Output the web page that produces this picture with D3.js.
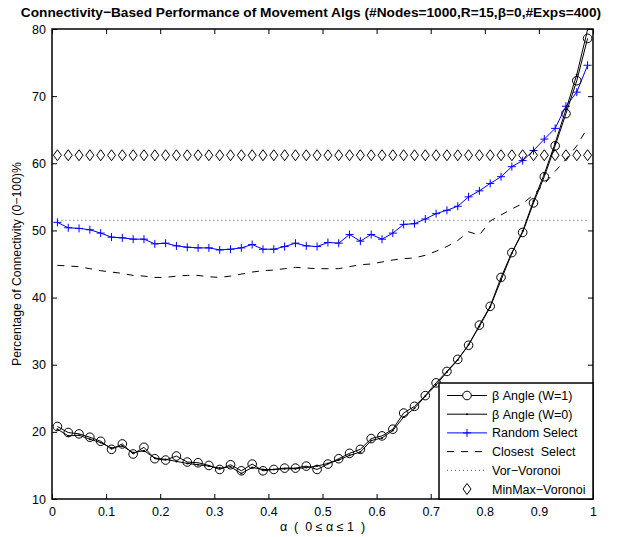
<!DOCTYPE html>
<html>
<head>
<meta charset="utf-8">
<script src="https://cdn.jsdelivr.net/npm/d3@7"></script>
<style>
  body { margin: 0; background: #fff; }
  text { font-family: "Liberation Sans", Arial, Helvetica, sans-serif; }
</style>
</head>
<body>
<svg width="623" height="537"></svg>
<script>

// alpha values, 0.01 .. 0.99 step 0.02
var alphas = [0.01,0.03,0.05,0.07,0.09,0.11,0.13,0.15,0.17,0.19,
              0.21,0.23,0.25,0.27,0.29,0.31,0.33,0.35,0.37,0.39,
              0.41,0.43,0.45,0.47,0.49,0.51,0.53,0.55,0.57,0.59,
              0.61,0.63,0.65,0.67,0.69,0.71,0.73,0.75,0.77,0.79,
              0.81,0.83,0.85,0.87,0.89,0.91,0.93,0.95,0.97,0.99];

var betaW1 = [20.8,19.9,19.7,19.2,18.6,17.4,18.2,16.7,17.7,16.0,
              15.8,16.4,15.5,15.4,15.0,14.4,15.1,14.2,15.2,14.2,
              14.4,14.6,14.6,14.9,14.4,15.2,16.0,16.8,17.4,19.0,
              19.4,20.4,22.8,23.8,25.4,27.3,29.0,30.8,32.9,35.9,
              38.7,43.0,46.7,49.7,54.1,58.0,62.6,67.4,72.3,78.6];

var betaW0 = [20.4,19.4,19.5,18.9,18.4,17.6,17.9,16.9,17.2,16.1,
              15.9,15.6,15.3,15.1,14.9,14.6,14.8,13.8,14.7,14.4,
              14.4,14.5,14.5,14.7,14.9,15.3,15.8,16.5,17.0,18.7,
              19.1,20.2,22.2,23.5,25.3,27.0,28.9,30.7,33.0,35.7,
              38.6,42.6,46.6,49.9,54.4,58.4,63.0,68.0,73.2,79.9];

var randomSel = [51.2,50.4,50.3,50.1,49.6,49.0,48.9,48.7,48.7,48.0,
                 48.1,47.7,47.5,47.4,47.4,47.1,47.2,47.4,47.9,47.2,
                 47.2,47.6,48.1,47.7,47.6,48.2,48.1,49.4,48.4,49.4,
                 48.7,49.6,50.9,51.0,51.7,52.5,53.0,53.6,55.0,55.9,
                 57.0,58.0,59.5,60.4,61.9,63.6,65.2,68.5,70.6,74.6];

var closestSel = [44.8,44.7,44.6,44.3,44.0,43.8,43.6,43.3,43.2,43.0,
                  43.0,43.2,43.3,43.3,43.1,43.0,43.2,43.5,43.8,44.0,
                  44.1,44.3,44.5,44.4,44.3,44.3,44.3,44.6,44.9,45.0,
                  45.3,45.6,45.8,45.9,46.3,46.9,47.6,48.5,49.8,49.3,
                  51.4,52.3,53.2,54.0,55.3,56.9,58.8,60.6,62.6,65.3];

var vorVoronoi = 51.5;
var minMaxVoronoi = 61.2;

var xTicks = [0,0.1,0.2,0.3,0.4,0.5,0.6,0.7,0.8,0.9,1];
var yTicks = [10,20,30,40,50,60,70,80];

var legendLabels = ["\u03b2 Angle (W=1)", "\u03b2 Angle (W=0)", "Random Select",
                    "Closest  Select", "Vor\u2212Voronoi", "MinMax\u2212Voronoi"];

var svg = d3.select("svg"),
    margin = {top: 29, right: 30, bottom: 38, left: 52},
    width = +svg.attr("width") - margin.left - margin.right,
    height = +svg.attr("height") - margin.top - margin.bottom,
    g = svg.append("g").attr("transform", "translate(" + margin.left + "," + margin.top + ")");

var x = d3.scaleLinear()
    .domain([0, 1])
    .range([0, width]);

var y = d3.scaleLinear()
    .domain([10, 80])
    .range([height, 0]);

var line = d3.line()
    .x(function(d, i) { return x(alphas[i]); })
    .y(function(d) { return y(d); });

// title
svg.append("text")
    .attr("x", 311)
    .attr("y", 17)
    .attr("text-anchor", "middle")
    .style("font-size", "13.7px")
    .style("font-weight", "bold")
    .text("Connectivity\u2212Based Performance of Movement Algs (#Nodes=1000,R=15,\u03b2=0,#Exps=400)");

// axes, ticks inside like matlab
var xAxis = d3.axisBottom(x).tickValues(xTicks).tickSize(-5).tickPadding(8)
    .tickFormat(function(d) { return d === 0 || d === 1 ? d : d3.format(".1f")(d); });
var yAxis = d3.axisLeft(y).tickValues(yTicks).tickSize(-5).tickPadding(6);

g.append("g")
    .attr("class", "axis axis--x")
    .attr("transform", "translate(0," + height + ")")
    .call(xAxis);

g.append("g")
    .attr("class", "axis axis--y")
    .call(yAxis);

// mirrored ticks top / right
g.append("g")
    .attr("class", "axis")
    .call(d3.axisTop(x).tickValues(xTicks).tickSize(-5).tickFormat(""));

g.append("g")
    .attr("class", "axis")
    .attr("transform", "translate(" + width + ",0)")
    .call(d3.axisRight(y).tickValues(yTicks).tickSize(-5).tickFormat(""));

g.selectAll(".axis .domain").remove();
g.selectAll(".axis text")
    .style("font-size", "12.5px")
    .style("font-family", "'Liberation Sans', Arial, sans-serif")
    .attr("fill", "#000");
g.selectAll(".axis line").attr("stroke", "#000");

// series
g.append("path")
    .datum(alphas)
    .attr("fill", "none")
    .attr("stroke", "#555")
    .attr("stroke-width", 1)
    .attr("stroke-dasharray", "1,3")
    .attr("d", d3.line()
        .x(function(d) { return x(d); })
        .y(function() { return y(vorVoronoi); }));

g.append("path")
    .datum(closestSel)
    .attr("fill", "none")
    .attr("stroke", "#000")
    .attr("stroke-width", 1)
    .attr("stroke-dasharray", "7,7")
    .attr("d", line);

g.append("path")
    .datum(randomSel)
    .attr("fill", "none")
    .attr("stroke", "#0000ff")
    .attr("stroke-width", 1)
    .attr("d", line);

g.selectAll(".plus")
    .data(randomSel)
  .enter().append("path")
    .attr("class", "plus")
    .attr("transform", function(d, i) { return "translate(" + x(alphas[i]) + "," + y(d) + ")"; })
    .attr("d", "M-4,0H4M0,-4V4")
    .attr("stroke", "#0000ff")
    .attr("stroke-width", 1);

g.append("path")
    .datum(betaW0)
    .attr("fill", "none")
    .attr("stroke", "#000")
    .attr("stroke-width", 1)
    .attr("d", line);

g.selectAll(".dot")
    .data(betaW0)
  .enter().append("circle")
    .attr("class", "dot")
    .attr("cx", function(d, i) { return x(alphas[i]); })
    .attr("cy", function(d) { return y(d); })
    .attr("r", 1)
    .attr("fill", "#000");

g.append("path")
    .datum(betaW1)
    .attr("fill", "none")
    .attr("stroke", "#000")
    .attr("stroke-width", 1)
    .attr("d", line);

g.selectAll(".circ")
    .data(betaW1)
  .enter().append("circle")
    .attr("class", "circ")
    .attr("cx", function(d, i) { return x(alphas[i]); })
    .attr("cy", function(d) { return y(d); })
    .attr("r", 4.3)
    .attr("fill", "none")
    .attr("stroke", "#000")
    .attr("stroke-width", 1);

g.selectAll(".diam")
    .data(alphas)
  .enter().append("path")
    .attr("class", "diam")
    .attr("transform", function(d) { return "translate(" + x(d) + "," + y(minMaxVoronoi) + ")"; })
    .attr("d", "M0,-5.5L4,0L0,5.5L-4,0Z")
    .attr("fill", "none")
    .attr("stroke", "#000")
    .attr("stroke-width", 1);

// box
g.append("rect")
    .attr("width", width)
    .attr("height", height)
    .attr("fill", "none")
    .attr("stroke", "#000")
    .attr("stroke-width", 1.5);

// axis labels
svg.append("text")
    .attr("x", margin.left + width / 2)
    .attr("y", 531)
    .attr("text-anchor", "middle")
    .attr("xml:space", "preserve")
    .style("white-space", "pre")
    .style("font-size", "12.5px")
    .text("\u03b1  (  0 \u2264 \u03b1 \u2264 1  )");

svg.append("text")
    .attr("transform", "translate(21," + (margin.top + height / 2) + ") rotate(-90)")
    .attr("text-anchor", "middle")
    .style("font-size", "12.3px")
    .text("Percentage of Connectivity (0\u2212100)%");

// legend
var lx = 387, ly = 354, lw = width - lx, lh = height - ly, rowH = 18.7;
var legend = g.append("g").attr("transform", "translate(" + lx + "," + ly + ")");

legend.append("rect")
    .attr("width", lw)
    .attr("height", lh)
    .attr("fill", "#fff")
    .attr("stroke", "#000")
    .attr("stroke-width", 1.5);

var rows = legend.selectAll(".row")
    .data(legendLabels)
  .enter().append("g")
    .attr("class", "row")
    .attr("transform", function(d, i) { return "translate(0," + (12.5 + i * rowH) + ")"; });

rows.append("text")
    .attr("x", 53)
    .attr("y", 4.5)
    .attr("xml:space", "preserve")
    .style("white-space", "pre")
    .style("font-size", "12.5px")
    .text(function(d) { return d; });

var rowSel = legend.selectAll(".row").nodes().map(function(n) { return d3.select(n); });

rowSel[0].append("line").attr("x1", 8).attr("x2", 48).attr("stroke", "#000");
rowSel[0].append("circle").attr("cx", 28).attr("r", 4.3).attr("fill", "#fff").attr("stroke", "#000");

rowSel[1].append("line").attr("x1", 8).attr("x2", 48).attr("stroke", "#000");
rowSel[1].append("circle").attr("cx", 28).attr("r", 1).attr("fill", "#000");

rowSel[2].append("line").attr("x1", 8).attr("x2", 48).attr("stroke", "#0000ff");
rowSel[2].append("path").attr("d", "M24,0H32M28,-4V4").attr("stroke", "#0000ff");

rowSel[3].append("line").attr("x1", 8).attr("x2", 48).attr("stroke", "#000")
    .attr("stroke-dasharray", "7,7");

rowSel[4].append("line").attr("x1", 8).attr("x2", 48).attr("stroke", "#555")
    .attr("stroke-dasharray", "1,3");

rowSel[5].append("path").attr("d", "M28,-5.5L32,0L28,5.5L24,0Z")
    .attr("fill", "none").attr("stroke", "#000");

</script>
</body>
</html>
